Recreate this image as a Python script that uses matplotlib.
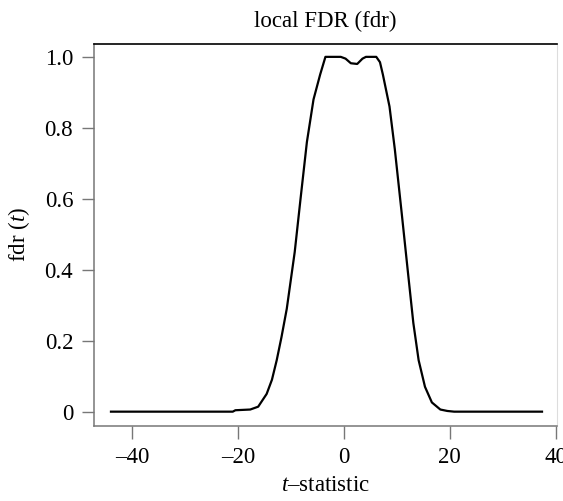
import matplotlib
matplotlib.use("Agg")
import matplotlib.pyplot as plt
from matplotlib.ticker import FuncFormatter

plt.rcParams['font.family'] = ['Liberation Serif', 'DejaVu Serif']
plt.rcParams['mathtext.fontset'] = 'custom'
plt.rcParams['mathtext.rm'] = 'Liberation Serif'
plt.rcParams['mathtext.it'] = 'Liberation Serif:italic'

# data
t_stat = [-44, -21, -20.5, -17.7, -16.2, -14.6, -13.6, -12.7, -11.8, -10.8, -9.3, -8.2,
          -7.0, -5.75, -4.5, -3.5, -0.6, 0.3, 1.3, 2.5, 3.5, 4.15, 6.1, 6.8, 7.35,
          8.6, 9.6, 10.9, 12.1, 13.1, 14.1, 15.3, 16.6, 18.2, 19.5, 20.8, 37.4]
fdr = [0, 0, 0.004, 0.006, 0.014, 0.05, 0.09, 0.145, 0.21, 0.29, 0.45, 0.6,
       0.76, 0.88, 0.95, 1.0, 1.0, 0.995, 0.982, 0.98, 0.995, 1.0, 1.0, 0.985, 0.95,
       0.86, 0.74, 0.56, 0.39, 0.25, 0.145, 0.07, 0.026, 0.006, 0.002, 0, 0]
x_ticks = [-40, -20, 0, 20, 40]
y_ticks = [0, 0.2, 0.4, 0.6, 0.8, 1.0]

fig = plt.figure(figsize=(5.63, 5.01), dpi=100)
ax = fig.add_axes([0.167, 0.150, 0.823, 0.762])
ax.plot(t_stat, fdr, color='black', lw=1.6)

ax.set_xlim(-47.2, 40.3)
ax.set_ylim(-0.040, 1.036)
ax.set_xticks(x_ticks)
ax.set_yticks(y_ticks)
ax.xaxis.set_major_formatter(FuncFormatter(lambda v, p: f"{int(v)}".replace('-', '–')))
ax.yaxis.set_major_formatter(FuncFormatter(lambda v, p: "0" if v == 0 else f"{v:.1f}"))

ax.tick_params(axis='both', direction='out', length=9, width=1.0, color='#777777',
               labelsize=16.5)
ax.tick_params(axis='x', pad=6)
ax.tick_params(axis='y', pad=6)

ax.spines['top'].set_color('black')
ax.spines['top'].set_linewidth(1.2)
ax.spines['left'].set_color('#777777')
ax.spines['bottom'].set_color('#777777')
ax.spines['left'].set_linewidth(1.1)
ax.spines['bottom'].set_linewidth(1.1)
ax.spines['right'].set_color('#dddddd')
ax.spines['right'].set_linewidth(0.8)

ax.set_title('local FDR (fdr)', fontsize=16.5, pad=12)
ax.set_ylabel(r'fdr ($t$)', fontsize=16.5, labelpad=9)
ax.set_xlabel(r'$t$–statistic', fontsize=16.5, labelpad=5)

fig.savefig('out.png', dpi=100)
